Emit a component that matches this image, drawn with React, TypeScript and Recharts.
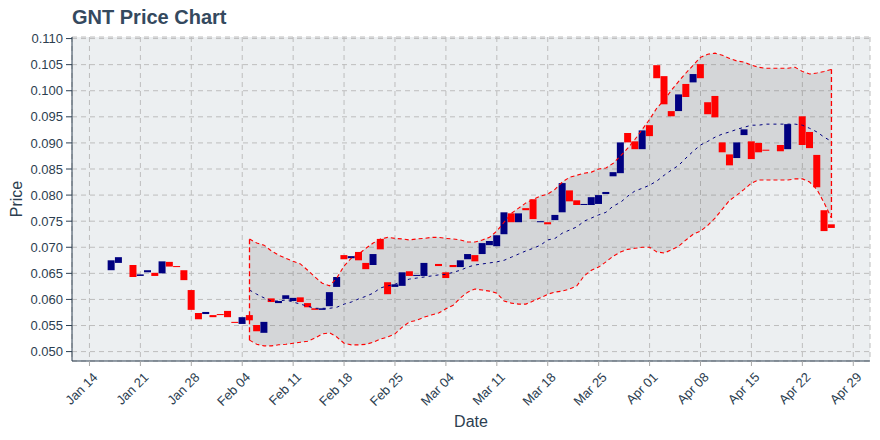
import React from 'react';
import { ComposedChart, Bar, Cell, Area, Line, XAxis, YAxis, CartesianGrid, ReferenceLine } from 'recharts';

// daily candles (open / close), dates in 2019
const candleDates = [
  '01-17', '01-18', '01-20', '01-21', '01-22', '01-23', '01-24', '01-25', '01-26', '01-27',
  '01-28', '01-29', '01-30', '01-31', '02-01', '02-02', '02-03', '02-04', '02-05', '02-06',
  '02-07', '02-08', '02-09', '02-10', '02-11', '02-12', '02-13', '02-14', '02-15', '02-16',
  '02-17', '02-18', '02-19', '02-20', '02-21', '02-22', '02-23', '02-24', '02-25', '02-26',
  '02-27', '02-28', '03-01', '03-03', '03-04', '03-05', '03-06', '03-07', '03-08', '03-09',
  '03-10', '03-11', '03-12', '03-13', '03-14', '03-15', '03-16', '03-17', '03-18', '03-19',
  '03-20', '03-21', '03-22', '03-23', '03-24', '03-25', '03-26', '03-27', '03-28', '03-29',
  '03-30', '03-31', '04-01', '04-02', '04-03', '04-04', '04-05', '04-06', '04-07', '04-08',
  '04-09', '04-10', '04-11', '04-12', '04-13', '04-14', '04-15', '04-16', '04-17', '04-19',
  '04-20', '04-22', '04-23', '04-24', '04-25', '04-26',
];
const candleOpen = [
  0.0656, 0.0670, 0.0666, 0.0645, 0.0652, 0.0651, 0.0650, 0.0672, 0.0664, 0.0656,
  0.0618, 0.0574, 0.0572, 0.0570, 0.0572, 0.0578, 0.0557, 0.0553, 0.0570, 0.0551,
  0.0536, 0.0602, 0.0593, 0.0601, 0.0597, 0.0604, 0.0593, 0.0583, 0.0580, 0.0587,
  0.0624, 0.0685, 0.0679, 0.0691, 0.0670, 0.0666, 0.0716, 0.0633, 0.0624, 0.0626,
  0.0654, 0.0645, 0.0645, 0.0668, 0.0652, 0.0666, 0.0662, 0.0677, 0.0685, 0.0687,
  0.0704, 0.0702, 0.0725, 0.0765, 0.0748, 0.0775, 0.0792, 0.0748, 0.0748, 0.0752,
  0.0767, 0.0809, 0.0790, 0.0781, 0.0781, 0.0783, 0.0802, 0.0836, 0.0842, 0.0919,
  0.0903, 0.0888, 0.0934, 0.1049, 0.1028, 0.0961, 0.0961, 0.1013, 0.1016, 0.1051,
  0.0978, 0.0990, 0.0901, 0.0878, 0.0871, 0.0915, 0.0903, 0.0900, 0.0887, 0.0896,
  0.0888, 0.0951, 0.0921, 0.0877, 0.0771, 0.0744,
];
const candleClose = [
  0.0675, 0.0681, 0.0643, 0.0648, 0.0656, 0.0645, 0.0673, 0.0663, 0.0662, 0.0637,
  0.0580, 0.0562, 0.0576, 0.0566, 0.0570, 0.0566, 0.0555, 0.0566, 0.0560, 0.0539,
  0.0557, 0.0595, 0.0597, 0.0608, 0.0603, 0.0595, 0.0585, 0.0580, 0.0583, 0.0614,
  0.0643, 0.0677, 0.0683, 0.0675, 0.0658, 0.0687, 0.0696, 0.0610, 0.0629, 0.0652,
  0.0645, 0.0647, 0.0670, 0.0664, 0.0641, 0.0662, 0.0675, 0.0687, 0.0673, 0.0708,
  0.0712, 0.0723, 0.0767, 0.0748, 0.0765, 0.0771, 0.0754, 0.0750, 0.0744, 0.0762,
  0.0823, 0.0788, 0.0781, 0.0783, 0.0796, 0.0800, 0.0806, 0.0844, 0.0901, 0.0901,
  0.0888, 0.0924, 0.0913, 0.1024, 0.0974, 0.0951, 0.0993, 0.0988, 0.1032, 0.1024,
  0.0955, 0.0949, 0.0882, 0.0857, 0.0901, 0.0926, 0.0869, 0.0882, 0.0885, 0.0884,
  0.0936, 0.0896, 0.0890, 0.0815, 0.0731, 0.0737,
];

// 20-day bollinger bands, one value per day from bandStart
const bandStart = '02-05';
const bandUpper = [
  0.0716, 0.0708, 0.0704, 0.0693, 0.0685, 0.0679, 0.0673, 0.0668, 0.0656, 0.0643,
  0.0631, 0.0626, 0.0641, 0.0664, 0.0679, 0.0687, 0.0698, 0.0708, 0.0716, 0.0719,
  0.0717, 0.0716, 0.0714, 0.0716, 0.0717, 0.0719, 0.0719, 0.0717, 0.0716, 0.0714,
  0.0710, 0.0710, 0.0714, 0.0719, 0.0731, 0.0748, 0.0765, 0.0775, 0.0785, 0.0792,
  0.0798, 0.0802, 0.0811, 0.0825, 0.0834, 0.0838, 0.0842, 0.0844, 0.0850, 0.0852,
  0.0861, 0.0875, 0.0890, 0.0907, 0.0926, 0.0945, 0.0967, 0.0982, 0.1001, 0.1018,
  0.1034, 0.1049, 0.1064, 0.1070, 0.1072, 0.1068, 0.1062, 0.1057, 0.1055, 0.1049,
  0.1045, 0.1043, 0.1043, 0.1043, 0.1043, 0.1045, 0.1037, 0.1032, 0.1034, 0.1037,
  0.1041,
];
const bandLower = [
  0.0522, 0.0514, 0.0511, 0.0511, 0.0513, 0.0514, 0.0516, 0.0518, 0.0520, 0.0526,
  0.0534, 0.0536, 0.0528, 0.0516, 0.0513, 0.0513, 0.0514, 0.0518, 0.0524, 0.0528,
  0.0534, 0.0547, 0.0557, 0.0560, 0.0566, 0.0570, 0.0574, 0.0582, 0.0589, 0.0603,
  0.0614, 0.0620, 0.0618, 0.0616, 0.0612, 0.0597, 0.0593, 0.0591, 0.0591, 0.0597,
  0.0603, 0.0610, 0.0614, 0.0616, 0.0620, 0.0626, 0.0645, 0.0656, 0.0662, 0.0672,
  0.0683, 0.0691, 0.0696, 0.0698, 0.0700, 0.0700, 0.0691, 0.0689, 0.0695, 0.0702,
  0.0714, 0.0725, 0.0731, 0.0742, 0.0756, 0.0773, 0.0790, 0.0800, 0.0811, 0.0823,
  0.0829, 0.0829, 0.0829, 0.0829, 0.0829, 0.0831, 0.0831, 0.0825, 0.0811, 0.0785,
  0.0756,
];
const bandMid = [
  0.0618, 0.0610, 0.0603, 0.0597, 0.0597, 0.0599, 0.0595, 0.0591, 0.0587, 0.0583,
  0.0583, 0.0583, 0.0585, 0.0591, 0.0595, 0.0601, 0.0606, 0.0612, 0.0622, 0.0626,
  0.0629, 0.0635, 0.0639, 0.0641, 0.0643, 0.0645, 0.0647, 0.0648, 0.0652, 0.0656,
  0.0662, 0.0666, 0.0668, 0.0670, 0.0672, 0.0675, 0.0681, 0.0687, 0.0693, 0.0698,
  0.0704, 0.0714, 0.0717, 0.0727, 0.0733, 0.0739, 0.0750, 0.0756, 0.0762, 0.0767,
  0.0779, 0.0786, 0.0798, 0.0808, 0.0813, 0.0819, 0.0827, 0.0838, 0.0848, 0.0857,
  0.0871, 0.0884, 0.0896, 0.0903, 0.0911, 0.0917, 0.0921, 0.0926, 0.0930, 0.0934,
  0.0934, 0.0936, 0.0936, 0.0936, 0.0936, 0.0936, 0.0934, 0.0928, 0.0921, 0.0911,
  0.0903,
];

const tickDates = ['01-14', '01-21', '01-28', '02-04', '02-11', '02-18', '02-25', '03-04',
  '03-11', '03-18', '03-25', '04-01', '04-08', '04-15', '04-22', '04-29'];
const tickLabels = ['Jan 14', 'Jan 21', 'Jan 28', 'Feb 04', 'Feb 11', 'Feb 18', 'Feb 25', 'Mar 04',
  'Mar 11', 'Mar 18', 'Mar 25', 'Apr 01', 'Apr 08', 'Apr 15', 'Apr 22', 'Apr 29'];
const priceTicks = [0.05, 0.055, 0.06, 0.065, 0.07, 0.075, 0.08, 0.085, 0.09, 0.095, 0.1, 0.105, 0.11];

const UP = '#000080';
const DOWN = '#ff0000';
const TEXT = '#2c3e50';
const FONT = '"Liberation Sans", Arial, sans-serif';

// day number counted from Jan 14
const dayOf = (md: string) => {
  const [m, d] = md.split('-').map(Number);
  return (Date.UTC(2019, m - 1, d) - Date.UTC(2019, 0, 14)) / 86400000;
};

type Row = {
  day: number;
  candle?: [number, number];
  up?: boolean;
  band?: [number, number];
  upper?: number;
  lower?: number;
  mid?: number;
};

const rowMap = new Map<number, Row>();
const rowAt = (day: number) => {
  if (!rowMap.has(day)) rowMap.set(day, { day });
  return rowMap.get(day)!;
};
candleDates.forEach((md, i) => {
  const r = rowAt(dayOf(md));
  const o = candleOpen[i];
  const c = candleClose[i];
  r.candle = [Math.min(o, c), Math.max(o, c)];
  r.up = c > o;
});
const firstBandDay = dayOf(bandStart);
bandUpper.forEach((u, i) => {
  const r = rowAt(firstBandDay + i);
  r.upper = u;
  r.lower = bandLower[i];
  r.mid = bandMid[i];
  r.band = [bandLower[i], u];
});
const rows = [...rowMap.values()].sort((a, b) => a.day - b.day);
const lastBandDay = firstBandDay + bandUpper.length - 1;
const tickDays = tickDates.map(dayOf);

function DateTick(props: any) {
  const { x, y, payload } = props;
  const label = tickLabels[tickDays.indexOf(payload.value)];
  const px = x + 9;
  const py = y + 10;
  return (
    <text x={px} y={py} transform={`rotate(-45 ${px} ${py})`} textAnchor="end" fill={TEXT} fontSize={13} fontFamily={FONT}>
      {label}
    </text>
  );
}

export default function App() {
  return (
    <div style={{ position: 'absolute', left: 0, top: 0, width: 880, height: 440, background: '#fff', fontFamily: FONT }}>
      <div style={{ position: 'absolute', left: 72, top: 6, fontSize: 20, fontWeight: 'bold', color: '#34495e' }}>
        GNT Price Chart
      </div>
      <div style={{ position: 'absolute', left: 17, top: 199, transform: 'translate(-50%, -50%) rotate(-90deg)', fontSize: 16, color: TEXT }}>
        Price
      </div>
      <div style={{ position: 'absolute', left: 471, top: 422, transform: 'translate(-50%, -50%)', fontSize: 16, color: TEXT }}>
        Date
      </div>
      <ComposedChart width={880} height={440} data={rows} margin={{ top: 37, right: 10, bottom: 0, left: 0 }}>
        <CartesianGrid fill="#eceff1" stroke="#bdbdbd" strokeDasharray="5 4" />
        <XAxis
          dataKey="day"
          type="number"
          domain={[-2.4, 107.3]}
          ticks={tickDays}
          allowDataOverflow
          height={79}
          stroke={TEXT}
          tickLine={{ stroke: '#a8a8a8' }}
          tickSize={5}
          tick={<DateTick />}
        />
        <YAxis
          type="number"
          domain={[0.0482, 0.1103]}
          ticks={priceTicks}
          allowDataOverflow
          width={72}
          stroke={TEXT}
          tickSize={6}
          tickMargin={3}
          tick={{ fill: TEXT, fontSize: 13, fontFamily: FONT }}
          tickFormatter={(v: number) => v.toFixed(3)}
        />
        <Bar dataKey="candle" barSize={7} isAnimationActive={false}>
          {rows.map((r) => (
            <Cell key={r.day} fill={r.up ? UP : DOWN} />
          ))}
        </Bar>
        <Area dataKey="band" type="linear" fill="#606060" fillOpacity={0.17} stroke="none" isAnimationActive={false} />
        <Line dataKey="upper" type="linear" stroke={DOWN} strokeDasharray="4 3" strokeWidth={1.1} dot={false} isAnimationActive={false} />
        <Line dataKey="lower" type="linear" stroke={DOWN} strokeDasharray="4 3" strokeWidth={1.1} dot={false} isAnimationActive={false} />
        <Line dataKey="mid" type="linear" stroke={UP} strokeDasharray="3 4" strokeWidth={1} dot={false} isAnimationActive={false} />
        <ReferenceLine
          segment={[{ x: firstBandDay, y: bandLower[0] }, { x: firstBandDay, y: bandUpper[0] }]}
          stroke={DOWN}
          strokeWidth={1.3}
          strokeDasharray="5 3"
        />
        <ReferenceLine
          segment={[{ x: lastBandDay, y: bandLower[bandLower.length - 1] }, { x: lastBandDay, y: bandUpper[bandUpper.length - 1] }]}
          stroke={DOWN}
          strokeWidth={1.3}
          strokeDasharray="5 3"
        />
      </ComposedChart>
    </div>
  );
}
